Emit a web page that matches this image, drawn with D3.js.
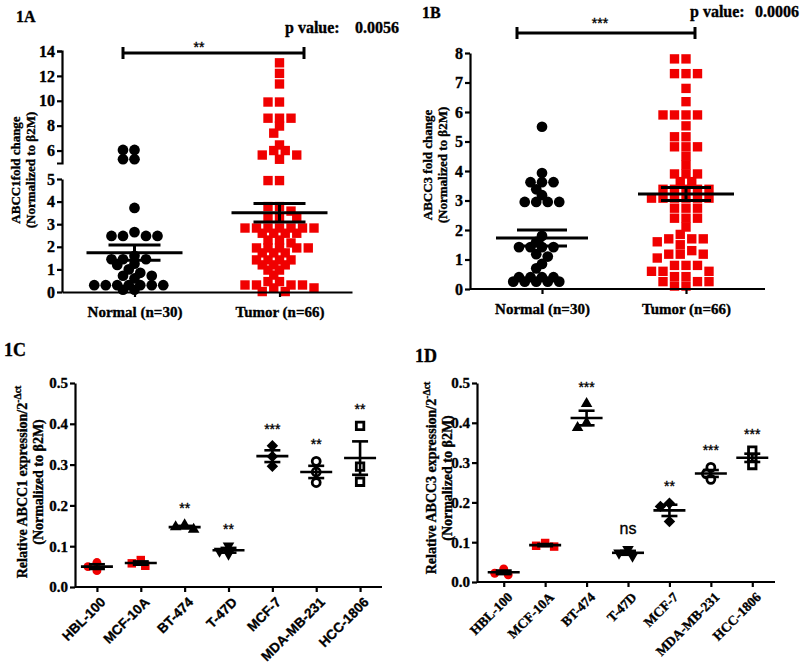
<!DOCTYPE html>
<html><head><meta charset="utf-8">
<script src="https://cdn.jsdelivr.net/npm/d3@7"></script>
<style>
body{margin:0;background:#fff}
svg{display:block;background:#fff}
text{font-family:"Liberation Serif","Times New Roman",serif;font-weight:bold;fill:#000;stroke:#000;stroke-width:0.35px}
.star{font-family:"Liberation Sans",Arial,sans-serif;font-weight:normal}
</style>
</head><body>
<svg id="c" width="800" height="665"></svg>
<script>
// ---------------- DATA ----------------
const groupsAB = ["Normal (n=30)", "Tumor (n=66)"];

const abcc1Normal = [6.05, 6.05, 5.3, 5.3, 3.72, 2.65, 2.48, 2.48, 2.48, 2.48, 1.6, 1.45, 1.45, 1.45, 1.25, 1.2, 1.0, 0.85, 0.72, 0.72, 0.6, 0.3, 0.3, 0.3, 0.3, 0.3, 0.3, 0.3, 0.1, 0.1];
const abcc1Tumor = [13.05, 12.2, 11.35, 9.9, 9.9, 8.6, 8.6, 8.6, 7.97, 7.4, 6.45, 6.0, 6.0, 5.64, 5.64, 5.3,
  4.93, 4.93, 3.78, 3.78, 3.58, 3.33, 3.33, 3.33, 2.83, 2.83, 2.83, 2.83, 2.83, 2.83, 2.83,
  2.6, 2.6, 2.6, 2.6, 2.3, 2.3, 2.17, 1.95, 1.95, 1.95, 1.95, 1.95, 1.73, 1.73, 1.73,
  1.42, 1.42, 1.42, 1.42, 1.2, 1.2, 1.2, 0.97, 0.97, 0.75, 0.46, 0.46, 0.31, 0.31, 0.31, 0.31, 0.18, 0.18, 0.02, 0.02];
const abcc1Mean = [1.74, 3.51];
const abcc1Sem = [0.34, 0.41];
const abcc1TicksLow = [0, 1, 2, 3, 4, 5];
const abcc1TicksHigh = [6, 8, 10, 12, 14];
const abcc1P = "0.0056";
const abcc1Sig = "**";

const abcc3Normal = [5.5, 3.93, 3.62, 3.62, 3.62, 3.38, 3.18, 2.95, 2.95, 2.95, 2.95, 1.8, 1.6, 1.42, 1.42, 1.42, 1.42, 1.18, 1.1, 0.85, 0.7, 0.4, 0.4, 0.4, 0.4, 0.25, 0.25, 0.25, 0.25, 0.25];
const abcc3Tumor = [7.8, 7.8, 7.3, 7.3, 7.3, 6.8, 6.35, 5.9, 5.9, 5.9, 5.9, 5.53, 5.16, 5.16, 4.82, 4.82, 4.82, 4.5, 4.2,
  3.9, 3.9, 3.9, 3.64, 3.64, 3.38, 3.38, 3.38, 3.38, 3.38, 3.08, 3.08, 3.08, 3.08, 3.08, 3.08,
  2.74, 2.74, 2.74, 2.4, 2.4, 2.4, 2.1, 1.85, 1.7, 1.7, 1.7, 1.6, 1.5, 1.3, 1.18, 1.18, 1.18, 1.05,
  0.8, 0.8, 0.8, 0.6, 0.6, 0.6, 0.42, 0.42, 0.25, 0.25, 0.25, 0.1, 0.1];
const abcc3Mean = [1.73, 3.22];
const abcc3Sem = [0.27, 0.22];
const abcc3Ticks = [0, 1, 2, 3, 4, 5, 6, 7, 8];
const abcc3P = "0.0006";
const abcc3Sig = "***";

const cellLines = ["HBL-100", "MCF-10A", "BT-474", "T-47D", "MCF-7", "MDA-MB-231", "HCC-1806"];
const cellTicks = [0, 0.1, 0.2, 0.3, 0.4, 0.5];
const cellShapes = ["circle", "square", "triangle", "triangleDown", "diamond", "openCircle", "openSquare"];
const cellColors = ["red", "red", "black", "black", "black", "black", "black"];
const abcc1Cells = [[0.060, 0.050, 0.040], [0.066, 0.058, 0.052], [0.152, 0.147, 0.141], [0.101, 0.088, 0.081],
  [0.346, 0.320, 0.296], [0.308, 0.282, 0.256], [0.395, 0.295, 0.258]];
const abcc1CellSig = ["", "", "**", "**", "***", "**", "**"];
const abcc3Cells = [[0.033, 0.022, 0.018], [0.098, 0.091, 0.089], [0.448, 0.400, 0.388], [0.082, 0.073, 0.065],
  [0.198, 0.190, 0.152], [0.288, 0.272, 0.258], [0.330, 0.312, 0.294]];
const abcc3CellSig = ["", "", "***", "ns", "**", "***", "***"];

// ---------------- DRAWING ----------------
const RED = "#f00000";
const svg = d3.select("#c");

function swarm(vals, yf, cx, step, diam) {
  const items = vals.map((v, i) => ({ v, i, y: yf(v) })).sort((a, b) => a.y - b.y);
  const placed = [];
  items.forEach(p => {
    for (let k = 0; k < 80; k++) {
      const m = Math.ceil(k / 2) * (k % 2 ? -1 : 1);
      const x = cx + m * step / 2;
      if (placed.every(q => Math.hypot(q.x - x, q.y - p.y) >= diam)) { p.x = x; placed.push(p); break; }
    }
  });
  return items;
}

function styleAxis(g, fs) {
  g.selectAll("path.domain").attr("stroke", "#000").attr("stroke-width", 2.2);
  g.selectAll(".tick line").attr("stroke", "#000").attr("stroke-width", 2.2);
  g.selectAll(".tick text").attr("font-size", fs).attr("fill", "#000");
}

function line(x1, y1, x2, y2, w) {
  svg.append("line").attr("x1", x1).attr("y1", y1).attr("x2", x2).attr("y2", y2)
    .attr("stroke", "#000").attr("stroke-width", w || 2.2);
}

function ylabel(lines, x0, yc, fs, sup) {
  lines.forEach((t, i) => {
    const tx = svg.append("text").attr("transform", `translate(${x0 + i * (fs + 2)},${yc}) rotate(-90)`)
      .attr("text-anchor", "middle").attr("font-size", fs);
    tx.append("tspan").text(t);
    if (i === 0 && sup) tx.append("tspan").attr("font-size", fs * 0.7).attr("dy", -fs * 0.45).text(sup);
  });
}

function meanSem(cx, yf, m, s, half, cap) {
  line(cx - half, yf(m), cx + half, yf(m), 3);
  line(cx, yf(m - s), cx, yf(m + s), 3);
  line(cx - cap, yf(m + s), cx + cap, yf(m + s), 3);
  line(cx - cap, yf(m - s), cx + cap, yf(m - s), 3);
}

function drawDots(vals, yf, cx, kind, diam) {
  const pts = swarm(vals, yf, cx, 11.5, diam);
  const sym = d3.symbol().type(kind === "circle" ? d3.symbolCircle : d3.symbolSquare).size(kind === "circle" ? 90 : 88);
  svg.append("g").selectAll("path").data(pts).join("path")
    .attr("transform", d => `translate(${d.x},${d.y})`)
    .attr("d", sym).attr("fill", kind === "circle" ? "#000" : RED);
}

const intFmt = d3.format("d");

// ---- 1A ----
{
  const x0 = 62, yBase = 292;
  const yLow = d3.scaleLinear().domain([0, 5]).range([292, 179]);
  const yHigh = d3.scaleLinear().domain([5, 14]).range([163, 51]);
  const yf = v => v <= 5 ? yLow(v) : yHigh(v);
  const x = d3.scalePoint().domain(groupsAB).range([62, 352]).padding(0.5);

  drawDots(abcc1Normal, yf, x(groupsAB[0]), "circle", 7.2);
  drawDots(abcc1Tumor, yf, x(groupsAB[1]), "square", 7.4);
  meanSem(x(groupsAB[0]), yf, abcc1Mean[0], abcc1Sem[0], 48, 26);
  meanSem(x(groupsAB[1]), yf, abcc1Mean[1], abcc1Sem[1], 48, 26);

  const gl = svg.append("g").attr("transform", `translate(${x0},0)`)
    .call(d3.axisLeft(yLow).tickValues(abcc1TicksLow).tickFormat(intFmt).tickSize(5).tickSizeOuter(0).tickPadding(2));
  styleAxis(gl, 16);
  const gh = svg.append("g").attr("transform", `translate(${x0},0)`)
    .call(d3.axisLeft(yHigh).tickValues(abcc1TicksHigh).tickFormat(intFmt).tickSize(5).tickSizeOuter(5).tickPadding(2));
  styleAxis(gh, 16);
  const gx = svg.append("g").attr("transform", `translate(0,${yBase})`)
    .call(d3.axisBottom(x).tickSize(5).tickSizeOuter(0).tickPadding(6));
  styleAxis(gx, 15);
  gx.selectAll(".tick text").attr("dy", "0.9em");

  ylabel(["ABCC1fold change", "(Normalized to β2M)"], 20, 170, 13);
  svg.append("text").attr("x", 16).attr("y", 22).attr("font-size", 16).text("1A");
  line(123, 53, 304, 53, 3); line(123, 47, 123, 59, 3); line(304, 47, 304, 59, 3);
  svg.append("text").attr("class", "star").attr("x", 199).attr("y", 51.5).attr("text-anchor", "middle").attr("font-size", 14).text(abcc1Sig);
  svg.append("text").attr("x", 285).attr("y", 33).attr("font-size", 16).text("p value:");
  svg.append("text").attr("x", 355).attr("y", 33).attr("font-size", 16).text(abcc1P);
}

// ---- 1B ----
{
  const x0 = 470, yBase = 289;
  const y = d3.scaleLinear().domain([0, 8]).range([289, 53]);
  const x = d3.scalePoint().domain(groupsAB).range([470, 758]).padding(0.5);

  drawDots(abcc3Normal, y, x(groupsAB[0]), "circle", 7.2);
  drawDots(abcc3Tumor, y, x(groupsAB[1]), "square", 8.6);
  meanSem(x(groupsAB[0]), y, abcc3Mean[0], abcc3Sem[0], 46, 25);
  meanSem(x(groupsAB[1]), y, abcc3Mean[1], abcc3Sem[1], 48, 25);

  const gy = svg.append("g").attr("transform", `translate(${x0},0)`)
    .call(d3.axisLeft(y).tickValues(abcc3Ticks).tickFormat(intFmt).tickSize(5).tickSizeOuter(0).tickPadding(2));
  styleAxis(gy, 16);
  const gx = svg.append("g").attr("transform", `translate(0,${yBase})`)
    .call(d3.axisBottom(x).tickSize(5).tickSizeOuter(0).tickPadding(6));
  styleAxis(gx, 15);
  gx.select("path.domain").remove();
  line(x0, yBase, 765, yBase, 2.2);
  gx.selectAll(".tick text").attr("dy", "0.9em");

  ylabel(["ABCC3 fold change", "(Normalized to β2M)"], 432, 165, 13);
  svg.append("text").attr("x", 422).attr("y", 18).attr("font-size", 16).text("1B");
  line(517, 33, 695, 33, 3); line(517, 27, 517, 39, 3); line(695, 27, 695, 39, 3);
  svg.append("text").attr("class", "star").attr("x", 600).attr("y", 28).attr("text-anchor", "middle").attr("font-size", 14).text(abcc3Sig);
  svg.append("text").attr("x", 690).attr("y", 17).attr("font-size", 16).text("p value:");
  svg.append("text").attr("x", 755).attr("y", 17).attr("font-size", 16).text(abcc3P);
}

// ---- Cell line panels (1C, 1D) ----
function symPath(shape) {
  const m = {
    circle: [d3.symbolCircle, 62], square: [d3.symbolSquare, 72], triangle: [d3.symbolTriangle, 58],
    triangleDown: [d3.symbolTriangle, 58], diamond: [d3.symbolSquare, 66], openCircle: [d3.symbolCircle, 50], openSquare: [d3.symbolSquare, 56]
  }[shape];
  return d3.symbol().type(m[0]).size(m[1])();
}

function cellPanel(cfg) {
  const y = d3.scaleLinear().domain([0, 0.5]).range([cfg.y0, cfg.yTop]);
  const x = d3.scalePoint().domain(cellLines).range(cfg.xr).padding(0.5);
  cfg.data.forEach((vals, i) => {
    const cx = x(cellLines[i]);
    const pts = swarm(vals, y, cx, 9, 7);
    const shape = cellShapes[i];
    const open = shape.startsWith("open");
    const rot = shape === "triangleDown" ? 180 : shape === "diamond" ? 45 : 0;
    const col = cellColors[i] === "red" ? RED : "#000";
    svg.append("g").selectAll("path").data(pts).join("path")
      .attr("transform", d => `translate(${d.x},${d.y}) rotate(${rot})`)
      .attr("d", symPath(shape))
      .attr("fill", open ? "#fff" : col)
      .attr("stroke", open ? "#000" : "none").attr("stroke-width", 2.8);
    const m = d3.mean(vals), s = d3.deviation(vals) / Math.sqrt(vals.length);
    line(cx - 16, y(m), cx + 16, y(m), 2.6);
    line(cx, y(m - s), cx, y(m + s), 2.6);
    line(cx - 8, y(m + s), cx + 8, y(m + s), 2.6);
    line(cx - 8, y(m - s), cx + 8, y(m - s), 2.6);
    const sig = cfg.sig[i];
    if (sig) {
      const top = y(d3.max(vals)) - 20;
      svg.append("text").attr("class", "star").attr("x", cx).attr("text-anchor", "middle")
        .attr("y", sig === "ns" ? top + 5 : top + 8).attr("font-size", sig === "ns" ? 16 : 14).text(sig);
    }
  });
  const gy = svg.append("g").attr("transform", `translate(${cfg.xAxis},0)`)
    .call(d3.axisLeft(y).tickValues(cellTicks).tickFormat(d3.format(".1f")).tickSize(5).tickSizeOuter(0).tickPadding(2));
  styleAxis(gy, 15);
  const gx = svg.append("g").attr("transform", `translate(0,${cfg.y0})`)
    .call(d3.axisBottom(x).tickSize(5).tickSizeOuter(0));
  styleAxis(gx, 13.5);
  gx.select("path.domain").remove();
  line(cfg.xAxis, cfg.y0, cfg.xEnd, cfg.y0, 2.2);
  gx.selectAll(".tick text").attr("text-anchor", "end").attr("y", 0).attr("dy", 0)
    .attr("transform", "translate(9,16) rotate(-45)")
    .style("font-family", cfg.xFont);
  ylabel([cfg.ylab, "(Normalized to β2M)"], cfg.labX, cfg.labY, 14, "-Δct");
  svg.append("text").attr("x", cfg.tagX).attr("y", cfg.tagY).attr("font-size", 18).text(cfg.tag);
}

cellPanel({ data: abcc1Cells, sig: abcc1CellSig, y0: 587, yTop: 383, xr: [75, 382], xAxis: 75, xEnd: 382,
  xFont: '"Liberation Sans",Arial,sans-serif', ylab: "Relative ABCC1 expression/2", labX: 27, labY: 482, tag: "1C", tagX: 4, tagY: 356 });
cellPanel({ data: abcc3Cells, sig: abcc3CellSig, y0: 582, yTop: 383, xr: [483, 773], xAxis: 477, xEnd: 775,
  xFont: '"Liberation Serif",serif', ylab: "Relative ABCC3 expression/2", labX: 436, labY: 478, tag: "1D", tagX: 415, tagY: 362 });
</script>
</body></html>
